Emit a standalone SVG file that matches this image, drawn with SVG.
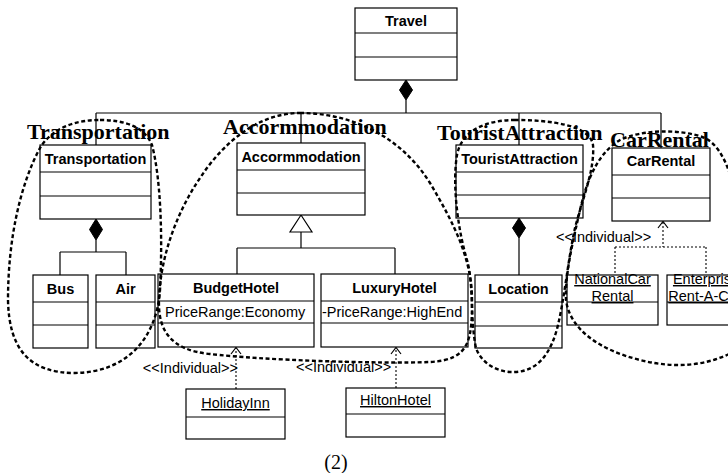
<svg xmlns="http://www.w3.org/2000/svg" width="728" height="473" viewBox="0 0 728 473">
  <style>
    .box { fill: #ffffff; stroke: #000000; stroke-width: 1.2; }
    .sep { stroke: #000000; stroke-width: 1.2; fill: none; }
    .ln { stroke: #000000; stroke-width: 1.2; fill: none; }
    .dep { stroke: #000000; stroke-width: 1.1; fill: none; stroke-dasharray: 2 2; }
    .head { stroke: #000000; stroke-width: 1.2; fill: none; }
    .dia { fill: #000000; stroke: #000000; stroke-width: 1; }
    .tri { fill: #ffffff; stroke: #000000; stroke-width: 1.2; }
    .title { font-family: "Liberation Sans", Arial, sans-serif; font-size: 14.5px; font-weight: bold; text-anchor: middle; fill: #000000; }
    .attr { font-family: "Liberation Sans", Arial, sans-serif; font-size: 14.5px; fill: #000000; }
    .inst { font-family: "Liberation Sans", Arial, sans-serif; font-size: 14.5px; text-anchor: middle; text-decoration: underline; fill: #000000; }
    .stereo { font-family: "Liberation Sans", Arial, sans-serif; font-size: 14.5px; fill: #000000; }
    .group { font-family: "Liberation Serif", "Times New Roman", serif; font-size: 22px; font-weight: bold; fill: #000000; }
    .cap { font-family: "Liberation Serif", "Times New Roman", serif; font-size: 20px; text-anchor: middle; fill: #000000; }
    .hull { fill: none; stroke: #000000; stroke-width: 2.4; stroke-dasharray: 4 2.6; }
  </style>

  <!-- connectors -->
  <g id="connectors">
    <!-- Travel composition -->
    <polygon class="dia" points="406,80 412.5,90 406,100 399.5,90"/>
    <path class="ln" d="M406,100 V113 M96,113 H661 M96,113 V145 M301,113 V143 M519,113 V145 M661,113 V148"/>
    <!-- Transportation composition -->
    <polygon class="dia" points="96,219 102.5,229.5 96,240 89.5,229.5"/>
    <path class="ln" d="M96,240 V252 M60,252 H126 M60,252 V275 M126,252 V275"/>
    <!-- Accormmodation generalization -->
    <polygon class="tri" points="301,215 312,232 290,232"/>
    <path class="ln" d="M301,232 V248 M237,248 H395 M237,248 V274 M395,248 V274"/>
    <!-- TouristAttraction composition -->
    <polygon class="dia" points="519,218 525.5,228 519,238 512.5,228"/>
    <path class="ln" d="M519,238 V275"/>
    <!-- instance dependencies -->
    <path class="dep" d="M236,389 V348"/>
    <path class="head" d="M231,354 L236,347.5 L241,354"/>
    <path class="dep" d="M396,388 V348"/>
    <path class="head" d="M391,354 L396,347.5 L401,354"/>
    <path class="dep" d="M663,222 V247 M615,247 H706 M615,247 V275 M706,247 V275"/>
    <path class="head" d="M658,228 L663,221.5 L668,228"/>
  </g>

  <g id="stereotypes">
    <text class="stereo" x="238" y="373" text-anchor="end">&lt;&lt;Individual&gt;&gt;</text>
    <text class="stereo" x="296" y="372">&lt;&lt;Individual&gt;&gt;</text>
    <text class="stereo" x="556" y="242">&lt;&lt;Individual&gt;&gt;</text>
  </g>

  <g id="Travel">
    <rect class="box" x="355" y="8" width="102" height="72"/>
    <path class="sep" d="M355,33 H457 M355,57 H457"/>
    <text class="title" x="406" y="25.5">Travel</text>
  </g>

  <g id="Transportation">
    <rect class="box" x="40" y="145" width="111" height="74"/>
    <path class="sep" d="M40,172 H151 M40,196 H151"/>
    <text class="title" x="95.5" y="163.5">Transportation</text>
  </g>

  <g id="Bus">
    <rect class="box" x="33" y="275" width="55" height="73"/>
    <path class="sep" d="M33,302 H88 M33,325 H88"/>
    <text class="title" x="60.5" y="293.5">Bus</text>
  </g>

  <g id="Air">
    <rect class="box" x="96" y="275" width="59" height="73"/>
    <path class="sep" d="M96,302 H155 M96,325 H155"/>
    <text class="title" x="125.5" y="293.5">Air</text>
  </g>

  <g id="Accormmodation">
    <rect class="box" x="237" y="143" width="128" height="72"/>
    <path class="sep" d="M237,170 H365 M237,193 H365"/>
    <text class="title" x="301" y="161.5">Accormmodation</text>
  </g>

  <g id="BudgetHotel">
    <rect class="box" x="158" y="274" width="156" height="73"/>
    <path class="sep" d="M158,301 H314 M158,323 H314"/>
    <text class="title" x="236" y="292.5">BudgetHotel</text>
    <text class="attr" x="165" y="317">PriceRange:Economy</text>
  </g>

  <g id="LuxuryHotel">
    <rect class="box" x="321" y="274" width="147" height="73"/>
    <path class="sep" d="M321,301 H468 M321,323 H468"/>
    <text class="title" x="394.5" y="292.5">LuxuryHotel</text>
    <text class="attr" x="322" y="317">-PriceRange:HighEnd</text>
  </g>

  <g id="HolidayInn">
    <rect class="box" x="186" y="389" width="99" height="50"/>
    <path class="sep" d="M186,417 H285"/>
    <text class="inst" x="235.5" y="408">HolidayInn</text>
  </g>

  <g id="HiltonHotel">
    <rect class="box" x="346" y="388" width="99" height="49"/>
    <path class="sep" d="M346,414 H445"/>
    <text class="inst" x="395.5" y="405">HiltonHotel</text>
  </g>

  <g id="TouristAttraction">
    <rect class="box" x="456" y="145" width="127" height="73"/>
    <path class="sep" d="M456,172 H583 M456,195 H583"/>
    <text class="title" x="519.5" y="163.5">TouristAttraction</text>
  </g>

  <g id="Location">
    <rect class="box" x="475" y="275" width="87" height="73"/>
    <path class="sep" d="M475,302 H562 M475,326 H562"/>
    <text class="title" x="518.5" y="293.5">Location</text>
  </g>

  <g id="CarRental">
    <rect class="box" x="612" y="148" width="98" height="73"/>
    <path class="sep" d="M612,175 H710 M612,198 H710"/>
    <text class="title" x="661" y="166">CarRental</text>
  </g>

  <g id="NationalCarRental">
    <rect class="box" x="567" y="275" width="91" height="50"/>
    <path class="sep" d="M567,302 H658"/>
    <text class="inst" x="612.5" y="284">NationalCar</text>
    <text class="inst" x="612.5" y="301">Rental</text>
  </g>

  <g id="EnterpriseRentACar">
    <rect class="box" x="667" y="275" width="78" height="50"/>
    <path class="sep" d="M667,302 H745"/>
    <text class="inst" x="706" y="284">Enterprise</text>
    <text class="inst" x="705" y="301">Rent-A-Car</text>
  </g>

  <!-- package labels -->
  <g id="group-labels">
    <text class="group" x="27" y="139">Transportation</text>
    <text class="group" x="223" y="134">Accormmodation</text>
    <text class="group" x="437" y="140">TouristAttraction</text>
    <text class="group" x="610" y="147">CarRental</text>
  </g>

  <!-- hand-drawn grouping outlines -->
  <g id="outlines">
    <path class="hull" d="M100,120 C125,120 145,127 152,145 C160,175 163,230 160,290 C157,335 130,372 75,373 C30,373 9,350 8,300 C8,240 20,185 40,148 C52,128 75,120 100,120 Z"/>
    <path class="hull" d="M300,113 C350,113 400,135 430,183 C455,225 472,260 472,300 C472,340 470,360 430,362 C380,364 260,360 210,354 C170,350 158,330 159,300 C160,260 175,215 200,178 C225,140 260,113 300,113 Z"/>
    <path class="hull" d="M515,120 C490,120 462,128 457,155 C452,185 458,230 467,260 C474,285 470,320 476,348 C482,365 500,373 515,372 C540,371 552,350 558,325 C565,295 568,260 575,228 C582,200 595,170 593,145 C590,125 550,120 515,120 Z"/>
    <path class="hull" d="M740,220 C735,190 728,150 705,138 C680,128 640,130 620,140 C600,152 588,175 580,210 C572,245 565,275 566,300 C570,330 600,350 640,360 C680,370 715,365 745,345"/>
  </g>

  <text class="cap" x="336" y="469">(2)</text>
</svg>
